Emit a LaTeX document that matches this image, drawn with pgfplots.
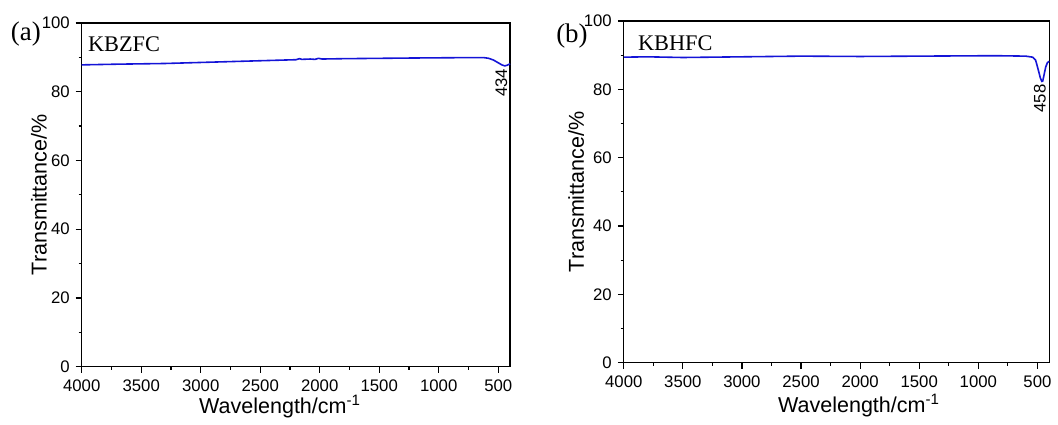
\documentclass[border=0pt]{standalone}
\usepackage{pgfplots}
\pgfplotsset{compat=1.18}
\usepackage{fontspec}
\setmainfont{Liberation Sans}
\newfontfamily\serif{Liberation Serif}

\definecolor{spec}{RGB}{20,20,215}

\pgfplotsset{
  ftir/.style={
    scale only axis,
    x dir=reverse,
    xmin=400, xmax=4000,
    ymin=0, ymax=100,
    xtick={500,1000,...,4000},
    ytick={0,20,...,100},
    minor x tick num=1,
    minor y tick num=1,
    xtick pos=bottom,
    ytick pos=left,
    tick align=outside,
    major tick length=3pt,
    minor tick length=1.6pt,
    axis line style={line width=0.7pt},
    every tick/.style={black, line width=0.6pt},
    /pgf/number format/assume math mode=true,
    /pgf/number format/set thousands separator={},
    tick label style={font=\fontsize{8.4}{10}\selectfont},
    yticklabel style={inner sep=0.5pt, xshift=-2.3pt},
    label style={font=\fontsize{10.8}{12}\selectfont},
    ylabel={Transmittance/\%},
    xlabel={Wavelength/cm\textsuperscript{-1}},
    clip=false,
  },
}

\begin{document}
\begin{tikzpicture}
\path (0,0) rectangle (529pt,212.5pt);

% (a)
\begin{axis}[ftir,
  at={(41pt,28.5pt)}, anchor=south west,
  width=215pt, height=172.5pt,
  ylabel style={at={(axis description cs:-0.1,0.5)}, anchor=center},
  xlabel style={at={(axis description cs:0.463,-0.135)}, anchor=base},
]
\addplot[spec, line width=0.8pt] coordinates {
  (4000,87.8) (3700,88.0) (3300,88.2) (3000,88.5) (2600,88.9)
  (2300,89.2) (2200,89.3) (2170,89.6) (2150,89.4) (2080,89.5)
  (2040,89.4) (2010,89.7) (1980,89.5) (1800,89.6) (1500,89.7)
  (1200,89.8) (800,89.9) (620,89.9) (580,89.7) (540,89.2)
  (500,88.4) (470,87.8) (445,87.5) (425,87.7) (400,88.1)
};
\node[rotate=90, font=\fontsize{8.4}{10}\selectfont] at (axis cs:474,82.6) {434};
\end{axis}
\node[font=\serif\fontsize{13.5}{15}\selectfont, inner sep=0pt] at (13pt,195.5pt) {(a)};
\node[font=\serif\fontsize{11.2}{12}\selectfont, anchor=west, inner sep=0pt] at (44pt,190.5pt) {KBZFC};

% (b)
\begin{axis}[ftir,
  at={(313pt,30.5pt)}, anchor=south west,
  width=213.5pt, height=171.5pt,
  ylabel style={at={(axis description cs:-0.112,0.5)}, anchor=center},
  xlabel style={at={(axis description cs:0.553,-0.145)}, anchor=base},
]
\addplot[spec, line width=0.8pt] coordinates {
  (4000,89.4) (3800,89.5) (3500,89.3) (3000,89.5) (2500,89.7)
  (2000,89.6) (1500,89.7) (1000,89.8) (800,89.8) (600,89.7)
  (540,89.4) (515,88.5) (495,86.0) (475,83.3) (462,82.3)
  (455,82.4) (445,84.0) (430,86.5) (415,87.8) (400,88.2)
};
\node[rotate=90, font=\fontsize{8.4}{10}\selectfont] at (axis cs:480,77.3) {458};
\end{axis}
\node[font=\serif\fontsize{13.5}{15}\selectfont, inner sep=0pt] at (287pt,194.5pt) {(b)};
\node[font=\serif\fontsize{11.2}{12}\selectfont, anchor=west, inner sep=0pt] at (320pt,191pt) {KBHFC};
\end{tikzpicture}
\end{document}
